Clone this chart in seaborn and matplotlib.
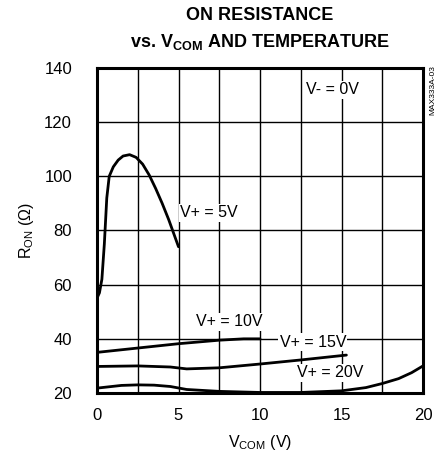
import matplotlib
matplotlib.use("Agg")
import matplotlib.pyplot as plt
import seaborn as sns
import pandas as pd
from matplotlib import font_manager

# ---- data ----
v5_x = [0.0, 0.15, 0.3, 0.45, 0.6, 0.75, 1.0, 1.3, 1.6, 2.0, 2.4, 2.8, 3.2, 3.6, 4.0, 4.4, 4.7, 5.0]
v5_y = [55, 57, 62, 75, 92, 100, 103.5, 106, 107.5, 108, 107, 104.5, 100.5, 95.5, 90, 84, 79, 74]

v10_x = [0, 2.5, 5, 7.5, 9, 10]
v10_y = [35, 36.6, 38.2, 39.5, 40.0, 40.0]

v15_x = [0, 2.5, 4.5, 5.5, 7.5, 10, 12.5, 15.3]
v15_y = [29.8, 30.0, 29.6, 28.9, 29.3, 30.7, 32.2, 34.0]

v20_x = [0, 1.5, 2.5, 3.5, 4.5, 5.5, 7.5, 10, 12.5, 15, 16.5, 17.5, 18.5, 19.3, 20]
v20_y = [21.8, 22.8, 23.0, 22.9, 22.4, 21.3, 20.6, 20.2, 20.2, 20.8, 22.0, 23.5, 25.3, 27.5, 30]

series_labels = ["V+ = 5V", "V+ = 10V", "V+ = 15V", "V+ = 20V"]
label_pos = [(5.1, 86.5), (6.1, 46.3), (11.2, 38.8), (12.3, 27.4)]
x_ticks = [0, 5, 10, 15, 20]
y_ticks = [20, 40, 60, 80, 100, 120, 140]

sns.set_theme(style="white")
names = {f.name for f in font_manager.fontManager.ttflist}
fam = "Liberation Sans Narrow" if "Liberation Sans Narrow" in names else "Liberation Sans"
plt.rcParams["font.family"] = [fam, "DejaVu Sans"]
plt.rcParams["mathtext.fontset"] = "custom"
plt.rcParams["mathtext.rm"] = fam

frames = []
for lab, xs, ys in zip(series_labels, [v5_x, v10_x, v15_x, v20_x], [v5_y, v10_y, v15_y, v20_y]):
    frames.append(pd.DataFrame({"x": xs, "y": ys, "s": lab}))
df = pd.concat(frames, ignore_index=True)

fig = plt.figure(figsize=(4.44, 4.54), dpi=100)
ax = fig.add_axes([97/444, 1-393/454, 326/444, 325/454])

sns.lineplot(data=df, x="x", y="y", units="s", estimator=None, sort=False,
             color="black", linewidth=2.0, ax=ax, legend=False, zorder=3)

ax.set_xlim(0, 20)
ax.set_ylim(20, 140)
ax.set_xticks([i * 2.5 for i in range(9)])
ax.set_yticks(y_ticks)
ax.set_xticklabels(["0", "", "5", "", "10", "", "15", "", "20"])
ax.set_yticklabels([str(t) for t in y_ticks])
ax.grid(True, color="black", linewidth=1.0)
ax.tick_params(axis="both", length=0, labelsize=12, colors="black")
ax.tick_params(axis="y", pad=18)
ax.tick_params(axis="x", pad=11)
for sp in ax.spines.values():
    sp.set_visible(True)
    sp.set_color("black")
    sp.set_linewidth(2.2)

ax.set_xlabel(r"V$\mathregular{_{COM}}$ (V)", fontsize=11.5, labelpad=7, color="black")
ax.set_ylabel(r"R$\mathregular{_{ON}}$ ($\Omega$)", fontsize=11.5, labelpad=6, color="black")

for lab, (px, py) in zip(series_labels, label_pos):
    ax.text(px, py, lab, fontsize=11.5, ha="left", va="center", color="black", zorder=4,
            bbox=dict(facecolor="white", edgecolor="none", pad=1.0))
ax.text(12.8, 132, "V- = 0V", fontsize=11.5, ha="left", va="center", color="black", zorder=4,
        bbox=dict(facecolor="white", edgecolor="none", pad=1.0))

fig.text(260/444, 1-16/454, "ON RESISTANCE", ha="center", va="center",
         fontsize=13, fontweight="bold", color="black")
fig.text(260/444, 1-42/454, r"vs. V$\mathregular{_{COM}}$ AND TEMPERATURE", ha="center", va="center",
         fontsize=13, fontweight="bold", color="black")
fig.text(433/444, 1-90/454, "MAX333A-03", rotation=90, ha="center", va="center",
         fontsize=6, color="black")

fig.savefig("out.png", dpi=100)
